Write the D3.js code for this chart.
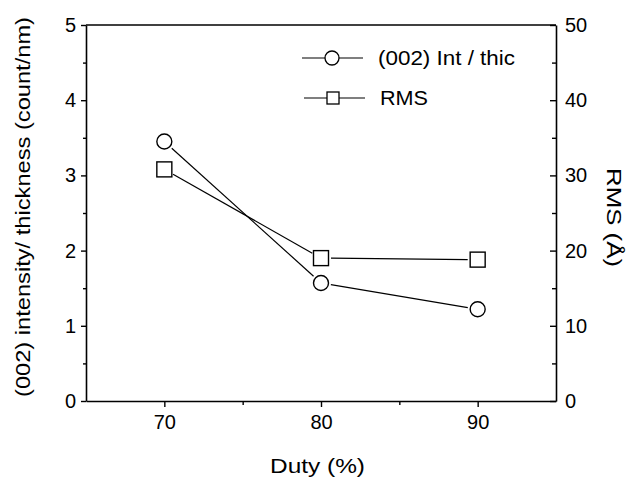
<!DOCTYPE html>
<html>
<head>
<meta charset="utf-8">
<script src="https://cdn.jsdelivr.net/npm/d3@7"></script>
<style>
  body { margin: 0; background: #fff; }
  svg { font-family: "Liberation Sans", Arial, sans-serif; }
</style>
</head>
<body>
<div id="main"></div>
<script>
// data
var duty = [70, 80, 90];
var intThic = [3.45, 1.57, 1.22];   // (002) Int / thic, left axis
var rms = [30.8, 19.0, 18.8];       // RMS (A), right axis
var xTicks = [70, 80, 90];
var yLeftTicks = [0, 1, 2, 3, 4, 5];
var yRightTicks = [0, 10, 20, 30, 40, 50];

var W = 635, H = 480;
var margin = {top: 25, right: 79, bottom: 79, left: 86},
    width = W - margin.left - margin.right,
    height = H - margin.top - margin.bottom;

var svg = d3.select("#main")
  .append("svg")
    .attr("width", W)
    .attr("height", H);

var g = svg.append("g")
  .attr("transform", "translate(" + margin.left + "," + margin.top + ")");

var x = d3.scaleLinear().domain([65, 95]).range([0, width]);
var yL = d3.scaleLinear().domain([0, 5]).range([height, 0]);
var yR = d3.scaleLinear().domain([0, 50]).range([height, 0]);

// frame top line
g.append("line")
  .attr("x1", 0).attr("x2", width).attr("y1", 0).attr("y2", 0)
  .attr("stroke", "#000").attr("stroke-width", 1.5);

// bottom axis
g.append("g")
  .attr("transform", "translate(0," + height + ")")
  .call(d3.axisBottom(x).tickValues(xTicks).tickSize(6).tickPadding(8).tickSizeOuter(0));
g.append("g")
  .attr("transform", "translate(0," + height + ")")
  .call(d3.axisBottom(x).tickValues([75, 85]).tickSize(4).tickFormat("").tickSizeOuter(0))
  .select(".domain").remove();

// left axis
g.append("g")
  .call(d3.axisLeft(yL).tickValues(yLeftTicks).tickFormat(d3.format("d")).tickSize(5).tickPadding(5).tickSizeOuter(0));
g.append("g")
  .call(d3.axisLeft(yL).tickValues([0.5, 1.5, 2.5, 3.5, 4.5]).tickSize(3).tickFormat("").tickSizeOuter(0))
  .select(".domain").remove();

// right axis, ticks point inward
g.append("g")
  .attr("transform", "translate(" + width + ",0)")
  .call(d3.axisRight(yR).tickValues(yRightTicks).tickSizeInner(-6).tickSizeOuter(0).tickPadding(9));
g.append("g")
  .attr("transform", "translate(" + width + ",0)")
  .call(d3.axisRight(yR).tickValues([5, 15, 25, 35, 45]).tickSizeInner(-4).tickFormat("").tickSizeOuter(0))
  .select(".domain").remove();

g.selectAll(".domain").attr("stroke-width", 1.6);
g.selectAll(".tick line").attr("stroke-width", 1.4);
g.selectAll(".tick text")
  .attr("font-size", 20)
  .attr("font-family", "Liberation Sans, Arial, sans-serif")
  .attr("fill", "#000");

// lines that stop at the marker edge
function gapLine(pts, r) {
  for (var i = 0; i < pts.length - 1; i++) {
    var a = pts[i], b = pts[i + 1];
    var dx = b[0] - a[0], dy = b[1] - a[1];
    var len = Math.sqrt(dx * dx + dy * dy);
    var ux = dx / len, uy = dy / len;
    g.append("line")
      .attr("x1", a[0] + ux * r).attr("y1", a[1] + uy * r)
      .attr("x2", b[0] - ux * r).attr("y2", b[1] - uy * r)
      .attr("stroke", "#000").attr("stroke-width", 1.2);
  }
}

var circPts = duty.map(function(d, i) { return [x(d), yL(intThic[i])]; });
var sqPts = duty.map(function(d, i) { return [x(d), yR(rms[i])]; });

gapLine(circPts, 10);
gapLine(sqPts, 10);

g.selectAll(".circ")
  .data(circPts)
  .enter().append("circle")
    .attr("cx", function(d) { return d[0]; })
    .attr("cy", function(d) { return d[1]; })
    .attr("r", 7.5)
    .attr("fill", "#fff").attr("stroke", "#000").attr("stroke-width", 1.4);

g.selectAll(".sq")
  .data(sqPts)
  .enter().append("rect")
    .attr("x", function(d) { return d[0] - 7.5; })
    .attr("y", function(d) { return d[1] - 7.5; })
    .attr("width", 15).attr("height", 15)
    .attr("fill", "#fff").attr("stroke", "#000").attr("stroke-width", 1.4);

// legend
var leg = svg.append("g");
leg.append("line").attr("x1", 302).attr("x2", 363).attr("y1", 58).attr("y2", 58)
  .attr("stroke", "#000").attr("stroke-width", 1.2);
leg.append("circle").attr("cx", 332).attr("cy", 58).attr("r", 7)
  .attr("fill", "#fff").attr("stroke", "#000").attr("stroke-width", 1.3);
leg.append("text").attr("x", 378).attr("y", 65).attr("font-size", 20)
  .attr("textLength", 137).attr("lengthAdjust", "spacingAndGlyphs")
  .text("(002) Int / thic");

leg.append("line").attr("x1", 304).attr("x2", 365).attr("y1", 98).attr("y2", 98)
  .attr("stroke", "#000").attr("stroke-width", 1.2);
leg.append("rect").attr("x", 327).attr("y", 92).attr("width", 12).attr("height", 12)
  .attr("fill", "#fff").attr("stroke", "#000").attr("stroke-width", 1.3);
leg.append("text").attr("x", 380).attr("y", 105).attr("font-size", 20)
  .attr("textLength", 48).attr("lengthAdjust", "spacingAndGlyphs")
  .text("RMS");

// axis titles
svg.append("text")
  .attr("x", 270).attr("y", 473)
  .attr("font-size", 21)
  .attr("textLength", 95).attr("lengthAdjust", "spacingAndGlyphs")
  .text("Duty (%)");

svg.append("text")
  .attr("transform", "translate(30,397) rotate(-90)")
  .attr("font-size", 21)
  .attr("textLength", 380).attr("lengthAdjust", "spacingAndGlyphs")
  .text("(002) intensity/ thickness (count/nm)");

svg.append("text")
  .attr("transform", "translate(607,168) rotate(90)")
  .attr("font-size", 21)
  .attr("textLength", 99).attr("lengthAdjust", "spacingAndGlyphs")
  .text("RMS (Å)");
</script>
</body>
</html>
